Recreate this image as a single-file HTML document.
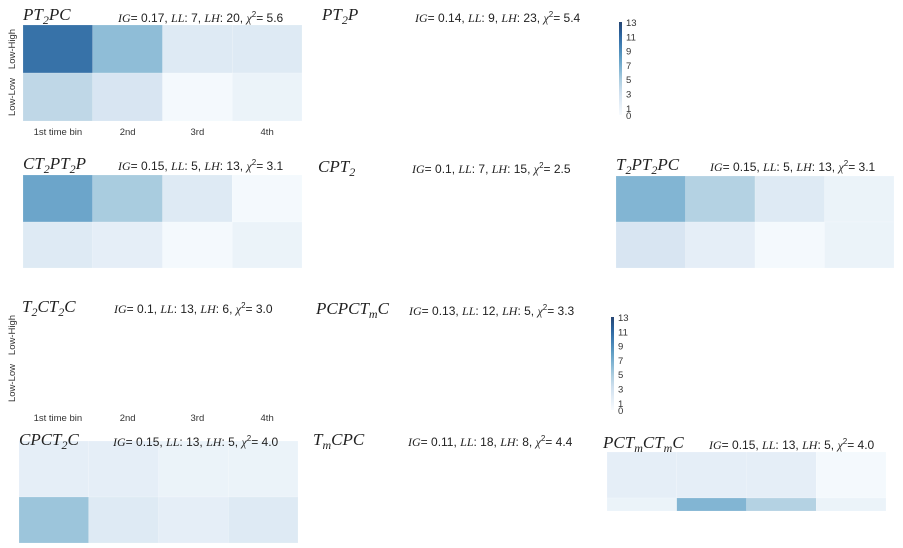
<!DOCTYPE html>
<html><head><meta charset="utf-8"><style>
body{margin:0;background:#fff;width:903px;height:548px;overflow:hidden}
svg{display:block}
.t{font-family:"Liberation Serif",serif;font-style:italic;font-size:17px;fill:#222}
.s{font-family:"Liberation Sans",sans-serif;font-size:12px;fill:#222}
.s .i{font-family:"Liberation Serif",serif;font-style:italic}
.k{font-family:"Liberation Sans",sans-serif;font-size:9.5px;fill:#333}
</style></head><body>
<svg id="c" width="903" height="548"></svg>
<script>
// data
const panelNames=["PT2PC","PT2P","CT2PT2P","CPT2","T2PT2PC","T2CT2C","PCPCTmC","CPCT2C","TmCPC","PCTmCTmC"];
const lowHigh={PT2PC:[10.5,6,2,2],CT2PT2P:[7.5,5,2,0.3],T2PT2PC:[6.5,4.5,2,1],CPCT2C:[1.5,1.5,1,1],PCTmCTmC:[1.5,1.5,1.5,0.3]};
const lowLow={PT2PC:[4,2.5,0.3,1],CT2PT2P:[2,1.5,0.3,1],T2PT2PC:[2.5,1.5,0.3,1],CPCT2C:[5.5,2,1.5,2],PCTmCTmC:[1,6.5,4.5,1]};
const colorTicks=[0,1,3,5,7,9,11,13];
const xTickLabels=["1st time bin","2nd","3rd","4th"];
const vmax=13;
const S="http://www.w3.org/2000/svg",svg=document.getElementById('c');
function el(t,a,p){const e=document.createElementNS(S,t);for(const k in a)e.setAttribute(k,a[k]);(p||svg).appendChild(e);return e;}
const stops=["#f7fbff","#deebf7","#c6dbef","#9ecae1","#6baed6","#4292c6","#2171b5","#08519c","#08306b"];
function hx(h){return [1,3,5].map(i=>parseInt(h.substr(i,2),16));}
function cmap(v){let t=Math.max(0,Math.min(1,v/vmax))*8;let i=Math.min(7,Math.floor(t)),f=t-i;const a=hx(stops[i]),b=hx(stops[i+1]);
 let c=a.map((x,j)=>(x+(b[j]-x)*f));const m=(c[0]+c[1]+c[2])/3;
 c=c.map(x=>Math.round((x*0.85+m*0.15)*0.9+255*0.1));return `rgb(${c})`;}
const layout={
 PT2PC:{tx:23,ty:20,sx:118,sy:22,hm:[23,25,279,48,48]},
 PT2P:{tx:322,ty:20,sx:415,sy:22},
 CT2PT2P:{tx:23,ty:169,sx:118,sy:170,hm:[23,175,279,47,46]},
 CPT2:{tx:318,ty:172,sx:412,sy:173},
 T2PT2PC:{tx:616,ty:170,sx:710,sy:171,hm:[616,176,278,46,46]},
 T2CT2C:{tx:22,ty:312,sx:114,sy:313},
 PCPCTmC:{tx:316,ty:314,sx:409,sy:315},
 CPCT2C:{tx:19,ty:445,sx:113,sy:446,hm:[19,441,279,56,46]},
 TmCPC:{tx:313,ty:445,sx:408,sy:446},
 PCTmCTmC:{tx:603,ty:448,sx:709,sy:449,hm:[607,452,279,46,13]}};
const titles={PT2PC:[["PT","2"],["PC"]],PT2P:[["PT","2"],["P"]],CT2PT2P:[["CT","2"],["PT","2"],["P"]],CPT2:[["CPT","2"]],
 T2PT2PC:[["T","2"],["PT","2"],["PC"]],T2CT2C:[["T","2"],["CT","2"],["C"]],PCPCTmC:[["PCPCT","m"],["C"]],CPCT2C:[["CPCT","2"],["C"]],
 TmCPC:[["T","m"],["CPC"]],PCTmCTmC:[["PCT","m"],["CT","m"],["C"]]};
const stats={PT2PC:["0.17","7","20","5.6"],PT2P:["0.14","9","23","5.4"],CT2PT2P:["0.15","5","13","3.1"],CPT2:["0.1","7","15","2.5"],
 T2PT2PC:["0.15","5","13","3.1"],T2CT2C:["0.1","13","6","3.0"],PCPCTmC:["0.13","12","5","3.3"],CPCT2C:["0.15","13","5","4.0"],
 TmCPC:["0.11","18","8","4.4"],PCTmCTmC:["0.15","13","5","4.0"]};
panelNames.forEach(n=>{
 const L=layout[n];
 const g=el('g',{});
 
 
 if(L.hm&&lowHigh[n]){
  const [x0,y0,w,h1,h2]=L.hm,cw=w/4;
  lowHigh[n].forEach((v,i)=>{const r=el('rect',{x:x0+i*cw,y:y0,width:cw,height:h1,fill:cmap(v),stroke:'#fff','stroke-opacity':0.3,'stroke-width':0.5},g);
   
   });
  lowLow[n].forEach((v,i)=>{const r=el('rect',{x:x0+i*cw,y:y0+h1,width:cw,height:h2,fill:cmap(v),stroke:'#fff','stroke-opacity':0.3,'stroke-width':0.5},g);
   
   });
 }
 const t=el('text',{x:L.tx,y:L.ty,class:'t'},g);
 
 
 titles[n].forEach(p=>{const a=el('tspan',{},t);a.textContent=p[0];if(p[1]){const b=el('tspan',{'baseline-shift':'-4','font-size':12},t);b.textContent=p[1];}});
 const st=stats[n];
 const s=el('text',{x:L.sx,y:L.sy,class:'s'},g);
 
 
 s.innerHTML=`<tspan class="i">IG</tspan>= ${st[0]}, <tspan class="i">LL</tspan>: ${st[1]}, <tspan class="i">LH</tspan>: ${st[2]}, <tspan class="i">χ</tspan><tspan baseline-shift="5" font-size="8">2</tspan>= ${st[3]}`;
});
[[25,121,131],[311,407,417]].forEach(([ya,yb,yt])=>{
 [['Low-High',ya+(yb-ya)*0.25],['Low-Low',ya+(yb-ya)*0.75]].forEach(([lab,cy])=>{
  const t=el('text',{x:0,y:0,class:'k','text-anchor':'middle',transform:`translate(15,${cy}) rotate(-90)`});
  t.textContent=lab;
  
  });
 xTickLabels.forEach((lab,i)=>{const t=el('text',{x:23+279/8*(2*i+1),y:yt+4,class:'k','text-anchor':'middle'});
  t.textContent=lab;
  
  });
});
let gi=0;
[[619,22,93],[611,317,93]].forEach(([x,y,h])=>{
 const id='gr'+(gi++);
 const d=el('defs',{});const lg=el('linearGradient',{id,x1:0,y1:1,x2:0,y2:0},d);
 stops.forEach((c,i)=>el('stop',{offset:i/8,'stop-color':cmap(i/8*vmax)},lg));
 const r=el('rect',{x,y,width:3,height:h,fill:`url(#${id})`});
 
 
 colorTicks.forEach(v=>{const t=el('text',{x:x+7,y:y+h-v/vmax*h+4,class:'k'});
  t.textContent=v;
  
  });
});
</script>
</body></html>
